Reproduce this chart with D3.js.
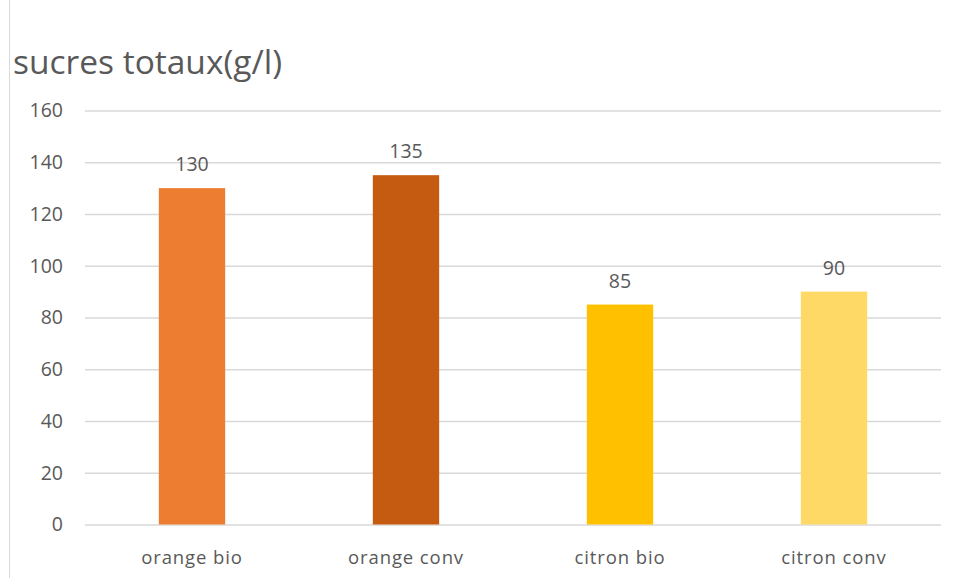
<!DOCTYPE html>
<html>
<head>
<meta charset="utf-8">
<script src="https://cdn.jsdelivr.net/npm/d3@7"></script>
<style>
  html, body { margin: 0; padding: 0; background: #fff; }
  svg { display: block; }
  text { font-family: "Open Sans", "Noto Sans", sans-serif; fill: #595959; }
</style>
</head>
<body>
<script>
// Total sugars per juice sample
const categories = ["orange bio", "orange conv", "citron bio", "citron conv"];
const values = [130, 135, 85, 90];
const barColors = ["#ED7D31", "#C55A11", "#FFC000", "#FFD966"];
const yTicks = [0, 20, 40, 60, 80, 100, 120, 140, 160];
const title = "sucres totaux(g/l)";

const W = 956, H = 578;
const margin = { left: 85, right: 15, top: 110.5, bottom: 53.5 };

const svg = d3.select("body").append("svg")
  .attr("width", W).attr("height", H);

// thin frame edge on the left
svg.append("line")
  .attr("x1", 9.5).attr("x2", 9.5).attr("y1", 0).attr("y2", H)
  .attr("stroke", "#D9D9D9").attr("stroke-width", 1);

svg.append("text")
  .attr("x", 13).attr("y", 74)
  .attr("font-size", 33.5)
  .text(title);

const x = d3.scaleBand()
  .domain(categories)
  .range([margin.left, W - margin.right])
  .paddingInner(0.69).paddingOuter(0.345);

const y = d3.scaleLinear()
  .domain([0, 160])
  .range([H - margin.bottom, margin.top]);

// gridlines + y labels
const yAxis = d3.axisLeft(y)
  .tickValues(yTicks)
  .tickSize(-(W - margin.right - margin.left))
  .tickPadding(22);

const ya = svg.append("g")
  .attr("transform", `translate(${margin.left},0)`)
  .call(yAxis);
ya.select(".domain").remove();
ya.selectAll(".tick line").attr("stroke", "#D9D9D9").attr("stroke-width", 1.3);
ya.selectAll(".tick text").attr("font-size", 19.5).attr("fill", "#595959")
  .style("font-family", '"Open Sans", sans-serif');

// bars
svg.append("g").selectAll("rect")
  .data(categories)
  .join("rect")
  .attr("x", d => x(d))
  .attr("width", x.bandwidth())
  .attr("y", (d, i) => y(values[i]))
  .attr("height", (d, i) => y(0) - y(values[i]))
  .attr("fill", (d, i) => barColors[i]);

// value labels
svg.append("g").selectAll("text")
  .data(categories)
  .join("text")
  .attr("x", d => x(d) + x.bandwidth() / 2)
  .attr("y", (d, i) => y(values[i]) - 17)
  .attr("text-anchor", "middle")
  .attr("font-size", 19.5)
  .text((d, i) => values[i]);

// category axis labels
const xAxis = d3.axisBottom(x).tickSize(0).tickPadding(26);
const xa = svg.append("g")
  .attr("transform", `translate(0,${y(0)})`)
  .call(xAxis);
xa.select(".domain").remove();
xa.selectAll(".tick text").attr("font-size", 18.5).attr("fill", "#595959")
  .style("font-family", '"Open Sans", sans-serif')
  .style("letter-spacing", "0.9px");
</script>
</body>
</html>
